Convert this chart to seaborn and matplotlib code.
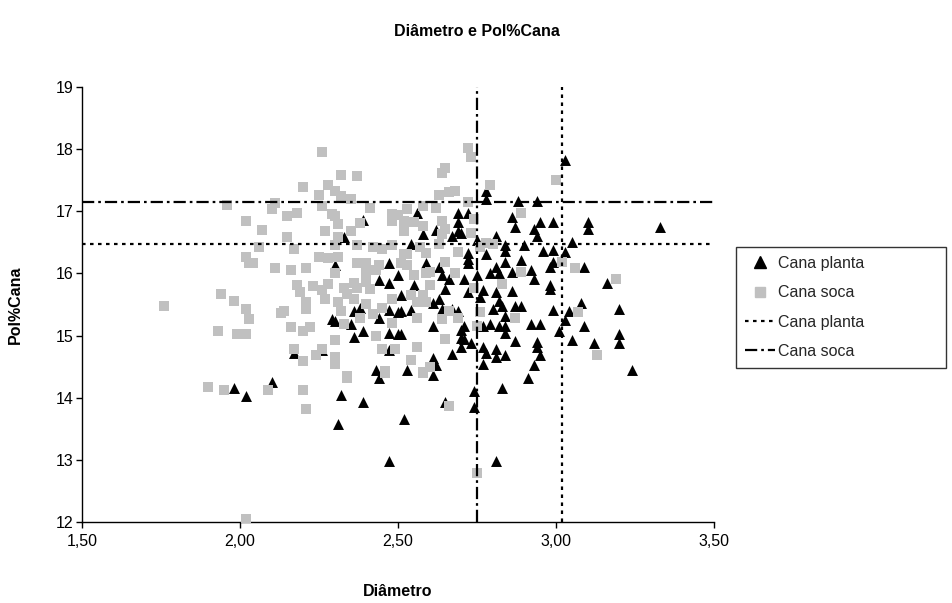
import numpy as np
import pandas as pd
import matplotlib
matplotlib.use("Agg")
import matplotlib.pyplot as plt
from matplotlib.lines import Line2D
from matplotlib.ticker import FuncFormatter, FixedLocator
import seaborn as sns

# Cana planta: diâmetro x Pol%Cana
planta_diam = [
    2.39, 2.78, 2.78, 2.88, 2.94, 2.56, 2.69, 2.72, 2.86, 2.69, 2.95, 2.87, 2.93, 2.62, 2.69,
    3.03, 2.99, 3.10, 3.10, 3.33,
    3.05, 2.99, 3.03, 2.99, 3.09, 2.98, 3.16, 3.08, 2.99, 3.04, 3.20, 3.03, 3.09, 3.01, 3.20,
    3.05, 3.12, 3.20, 3.24,
    1.98, 2.02, 2.10, 2.32, 2.39, 2.31, 2.44, 2.47, 2.61, 2.91, 2.74, 2.83, 2.65, 2.74, 2.52, 2.81,
    2.33, 2.30, 2.47, 2.44, 2.47, 2.50, 2.36, 2.38, 2.29, 2.30, 2.35, 2.44, 2.47, 2.50, 2.36,
    2.39, 2.47, 2.50, 2.17, 2.26, 2.47, 2.43,
    2.58, 2.67, 2.70, 2.81, 2.54, 2.75, 2.84, 2.90, 2.94, 2.96, 2.72, 2.72, 2.78, 2.84, 2.89,
    2.63, 2.59, 2.72, 2.81, 2.84, 2.86, 2.92, 2.98, 2.64, 2.66, 2.71, 2.75, 2.79, 2.82, 2.93,
    2.55, 2.51, 2.54, 2.65, 2.72, 2.77, 2.76, 2.81, 2.86, 2.98, 2.63, 2.61, 2.82, 2.83, 2.87,
    2.89, 2.51, 2.54, 2.64, 2.67, 2.69, 2.80, 2.84, 2.79, 2.82, 2.84, 2.92, 2.95, 2.61, 2.71,
    2.77, 2.70, 2.51, 2.70, 2.71, 2.73, 2.84, 2.87, 2.94, 2.70, 2.77, 2.81, 2.67, 2.78, 2.84,
    2.94, 2.95, 2.61, 2.81, 2.77, 2.62, 2.53, 2.93,
]
planta_pol = [
    16.86, 17.33, 17.20, 17.17, 17.17, 16.97, 16.97, 16.97, 16.91, 16.82, 16.82, 16.74, 16.72, 16.70, 16.69,
    17.83, 16.82, 16.82, 16.72, 16.74,
    16.51, 16.37, 16.34, 16.18, 16.11, 15.81, 15.84, 15.52, 15.41, 15.39, 15.43, 15.25, 15.16, 15.07, 15.03,
    14.93, 14.88, 14.88, 14.45,
    14.15, 14.02, 14.25, 14.04, 13.93, 13.58, 14.31, 12.98, 14.36, 14.31, 14.11, 14.15, 13.93, 13.85, 13.65, 12.98,
    16.59, 16.13, 16.17, 15.90, 15.84, 15.97, 15.40, 15.45, 15.27, 15.23, 15.19, 15.29, 15.41, 15.38, 14.98,
    15.07, 15.04, 15.03, 14.72, 14.76, 14.77, 14.45,
    16.63, 16.61, 16.65, 16.60, 16.48, 16.54, 16.45, 16.45, 16.60, 16.36, 16.33, 16.24, 16.32, 16.36, 16.22,
    16.10, 16.17, 16.17, 16.11, 16.18, 16.02, 16.06, 16.11, 15.97, 15.91, 15.91, 15.98, 16.00, 16.00, 15.91,
    15.81, 15.65, 15.67, 15.75, 15.70, 15.73, 15.62, 15.70, 15.72, 15.75, 15.59, 15.52, 15.56, 15.47, 15.48,
    15.48, 15.40, 15.41, 15.43, 15.43, 15.40, 15.43, 15.32, 15.19, 15.16, 15.16, 15.18, 15.18, 15.15, 15.15,
    15.15, 15.09, 15.03, 14.96, 14.95, 14.88, 15.04, 14.92, 14.89, 14.81, 14.81, 14.79, 14.71, 14.72, 14.69,
    14.81, 14.69, 14.64, 14.65, 14.55, 14.52, 14.45, 14.52,
]

# Cana soca: diâmetro x Pol%Cana
soca_diam = [
    1.96, 2.02,
    2.26, 2.32, 2.37, 2.20, 2.28, 2.30, 2.25, 2.32, 2.35, 2.11, 2.10, 2.26, 2.41, 2.18, 2.15, 2.29,
    2.30, 2.48, 2.48, 2.50, 2.38, 2.31, 2.07, 2.27, 2.35,
    2.72, 2.73, 2.65, 2.64, 2.68, 2.66, 2.63, 2.79, 2.72, 2.58, 2.53, 2.62, 2.74, 2.89, 2.52, 2.55,
    2.58, 2.64, 2.65, 2.52,
    3.00,
    2.02, 2.03, 1.76, 1.94, 1.98, 2.02, 2.03, 1.93, 1.99, 2.02,
    1.90, 1.95, 2.02,
    2.09, 2.20, 2.21, 2.34, 2.46,
    2.58, 2.66, 2.75,
    3.02, 3.06, 3.19, 3.07, 3.13,
    2.15, 2.31, 2.06, 2.17, 2.30, 2.37, 2.42, 2.45, 2.48, 2.25, 2.28, 2.31, 2.04, 2.11, 2.16, 2.21,
    2.37, 2.40, 2.44, 2.40, 2.43, 2.30, 2.18, 2.19, 2.23, 2.26, 2.28, 2.27, 2.33, 2.34, 2.36, 2.37,
    2.40, 2.41, 2.36, 2.21, 2.21, 2.31, 2.32, 2.40, 2.45, 2.48, 2.14, 2.13, 2.03, 2.38, 2.42, 2.48,
    2.16, 2.20, 2.22, 2.33, 2.43, 2.30, 2.17, 2.20, 2.24, 2.26, 2.30, 2.30, 2.45, 2.49, 2.46, 2.34,
    2.52, 2.53, 2.57, 2.59, 2.64, 2.63, 2.69, 2.76, 2.80, 2.78, 2.73, 2.51, 2.53, 2.55, 2.59, 2.60,
    2.65, 2.68, 2.89, 2.83, 2.74, 2.60, 2.58, 2.54, 2.56, 2.59, 2.66, 2.76, 2.87, 2.56, 2.64, 2.69,
    2.75, 2.65, 2.56, 2.54, 2.60, 2.58,
]
soca_pol = [
    17.10, 16.85,
    17.96, 17.58, 17.56, 17.39, 17.43, 17.33, 17.26, 17.25, 17.20, 17.13, 17.04, 17.09, 17.05, 16.98, 16.92, 16.95,
    16.93, 16.96, 16.85, 16.94, 16.81, 16.79, 16.70, 16.69, 16.69,
    18.02, 17.88, 17.69, 17.62, 17.33, 17.31, 17.27, 17.43, 17.15, 17.09, 17.04, 17.05, 16.88, 16.98, 16.85, 16.82,
    16.77, 16.85, 16.72, 16.69,
    17.50,
    16.27, 16.16, 15.48, 15.67, 15.55, 15.43, 15.27, 15.07, 15.03, 15.03,
    14.17, 14.13, 12.05,
    14.13, 14.13, 13.82, 14.31, 14.39,
    14.39, 13.86, 12.79,
    16.18, 16.09, 15.91, 15.38, 14.68,
    16.58, 16.59, 16.43, 16.40, 16.45, 16.45, 16.43, 16.40, 16.45, 16.27, 16.25, 16.27, 16.16, 16.08, 16.06, 16.09,
    16.16, 16.16, 16.13, 16.02, 16.05, 16.00, 15.82, 15.70, 15.79, 15.73, 15.83, 15.59, 15.77, 15.67, 15.84, 15.77,
    15.86, 15.75, 15.59, 15.54, 15.43, 15.54, 15.40, 15.50, 15.45, 15.59, 15.39, 15.36, 15.27, 15.29, 15.35, 15.20,
    15.13, 15.08, 15.13, 15.19, 14.99, 14.93, 14.79, 14.59, 14.69, 14.79, 14.66, 14.54, 14.78, 14.79, 14.43, 14.35,
    16.31, 16.32, 16.43, 16.33, 16.64, 16.48, 16.35, 16.43, 16.48, 16.49, 16.65, 16.16, 16.13, 15.97, 16.00, 16.02,
    16.18, 16.00, 16.02, 15.83, 15.77, 15.81, 15.65, 15.65, 15.54, 15.54, 15.39, 15.38, 15.29, 15.29, 15.27, 15.29,
    15.15, 14.95, 14.81, 14.60, 14.49, 14.41,
]

# Linhas de referência (diâmetro e Pol%Cana)
ref_labels = ["Cana planta", "Cana soca"]
ref_diam = [3.02, 2.75]
ref_pol = [16.47, 17.15]
ref_styles = [(0, (1.6, 2.0)), (0, (5.5, 1.8, 1.2, 1.8))]

xticks = [1.5, 2.0, 2.5, 3.0, 3.5]
yticks = [12, 13, 14, 15, 16, 17, 18, 19]

df_planta = pd.DataFrame({"Diâmetro": planta_diam, "Pol%Cana": planta_pol})
df_soca = pd.DataFrame({"Diâmetro": soca_diam, "Pol%Cana": soca_pol})

sns.set_theme(style="white")
plt.rcParams["font.family"] = ["Liberation Sans", "DejaVu Sans"]

fig = plt.figure(figsize=(9.52, 6.03), dpi=100)
ax = fig.add_axes([82 / 952, 1 - 522 / 603, (714 - 82) / 952, (522 - 87) / 603])

sns.scatterplot(data=df_planta, x="Diâmetro", y="Pol%Cana", ax=ax, marker="^",
                color="black", s=62, linewidth=0, label="Cana planta", zorder=3)
sns.scatterplot(data=df_soca, x="Diâmetro", y="Pol%Cana", ax=ax, marker="s",
                color="#c0c0c0", s=42, linewidth=0, label="Cana soca", zorder=4)

for dx, py, ls in zip(ref_diam, ref_pol, ref_styles):
    ax.axvline(dx, color="black", linestyle=ls, linewidth=1.6, zorder=5)
    ax.axhline(py, color="black", linestyle=ls, linewidth=1.6, zorder=5)

ax.set_xlim(xticks[0], xticks[-1])
ax.set_ylim(yticks[0], yticks[-1])
ax.xaxis.set_major_locator(FixedLocator(xticks))
ax.yaxis.set_major_locator(FixedLocator(yticks))
ax.xaxis.set_major_formatter(FuncFormatter(lambda v, p: f"{v:.2f}".replace(".", ",")))
ax.yaxis.set_major_formatter(FuncFormatter(lambda v, p: f"{int(round(v))}"))
ax.tick_params(axis="both", direction="out", length=4, width=1, color="black",
               labelsize=11.5, labelcolor="black", bottom=True, left=True, pad=2)
ax.tick_params(axis="x", pad=5)

for side in ["top", "right"]:
    ax.spines[side].set_visible(False)
for side in ["left", "bottom"]:
    ax.spines[side].set_color("black")
    ax.spines[side].set_linewidth(1.0)

ax.set_xlabel("Diâmetro", fontsize=11.5, fontweight="bold", color="black")
ax.set_ylabel("Pol%Cana", fontsize=11.5, fontweight="bold", color="black")
ax.xaxis.set_label_coords(0.5, (522 - 584) / 435)
ax.yaxis.set_label_coords((23 - 82) / 632, 0.5)
fig.suptitle("Diâmetro e Pol%Cana", x=477 / 952, y=1 - 24 / 603, fontsize=11.5,
             fontweight="bold", color="black")

handles = [
    Line2D([], [], marker="^", color="black", linestyle="none", markersize=8),
    Line2D([], [], marker="s", color="#c0c0c0", linestyle="none", markersize=6.5),
    Line2D([], [], color="black", linestyle=ref_styles[0], linewidth=1.6),
    Line2D([], [], color="black", linestyle=ref_styles[1], linewidth=1.6),
]
labels = ["Cana planta", "Cana soca"] + ref_labels
if ax.legend_ is not None:
    ax.legend_.remove()
leg = fig.legend(handles, labels, loc="upper left",
                 bbox_to_anchor=(736 / 952, 1 - 364 / 603, 210 / 952, 117 / 603),
                 bbox_transform=fig.transFigure, mode="expand", frameon=True, fancybox=False,
                 edgecolor="black", fontsize=11.5, handlelength=1.9, handletextpad=0.2,
                 borderpad=0.55, labelspacing=0.9, borderaxespad=0)
leg.get_frame().set_linewidth(1.0)

fig.savefig("out.png", dpi=100, facecolor="white")
